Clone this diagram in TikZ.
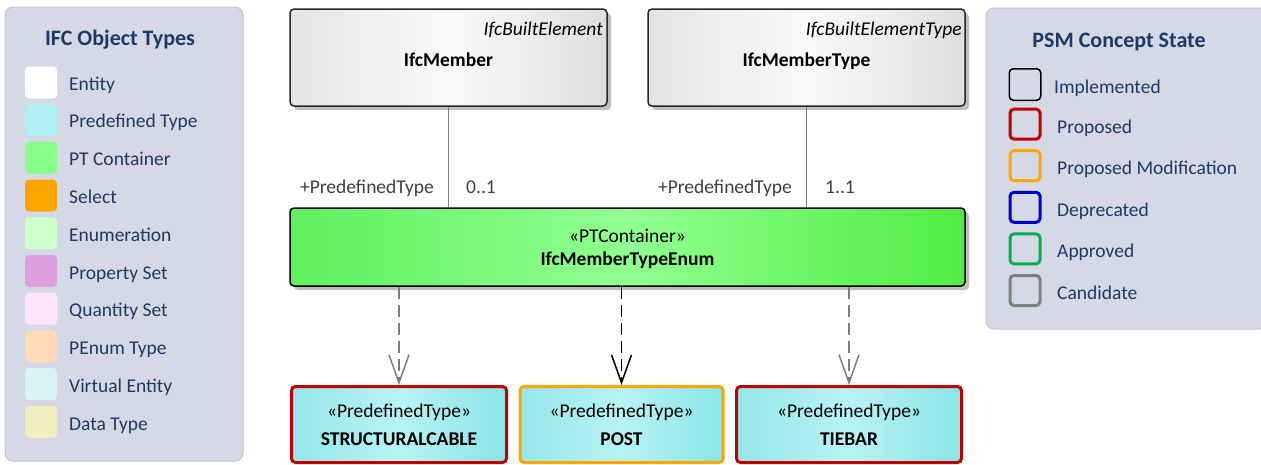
\documentclass[tikz,border=0pt]{standalone}
\usepackage{fontspec}
\setmainfont{Carlito}
\usetikzlibrary{arrows.meta,shadows}
\newcommand\txt{\fontsize{19.5}{23}\selectfont}
\newcommand\ttl{\fontsize{22}{26}\selectfont\bfseries}
\definecolor{panel_fill}{RGB}{213,217,229}
\definecolor{panel_edge}{RGB}{192,196,208}
\definecolor{text_blue}{RGB}{31,56,100}
\definecolor{edge_dark}{RGB}{40,40,40}
\definecolor{conn_gray}{RGB}{125,125,125}
\definecolor{label_gray}{RGB}{64,64,64}
\definecolor{st_red}{RGB}{192,0,0}
\definecolor{st_orange}{RGB}{255,165,0}
\definecolor{st_blue}{RGB}{0,0,204}
\definecolor{st_green}{RGB}{0,176,80}
\definecolor{st_gray}{RGB}{128,128,128}
\definecolor{ent_l}{RGB}{228,228,228}
\definecolor{ent_m}{RGB}{250,250,250}
\definecolor{ent_r}{RGB}{222,222,222}
\definecolor{ptc_l}{RGB}{95,240,95}
\definecolor{ptc_m}{RGB}{145,255,145}
\definecolor{ptc_r}{RGB}{80,236,66}
\definecolor{pt_l}{RGB}{150,230,234}
\definecolor{pt_m}{RGB}{184,243,243}
\definecolor{pt_r}{RGB}{138,228,230}

\begin{document}
\begin{tikzpicture}[x=1pt,y=-1pt,>={Straight Barb[length=28pt,width=20pt]}]
    \tikzstyle{panel}=[draw=panel_edge, fill=panel_fill, rounded corners=8pt, line width=1pt]
    \tikzstyle{swatch}=[rounded corners=4pt, minimum width=32pt, minimum height=32pt, inner sep=0pt]
    \tikzstyle{statebox}=[swatch, fill=panel_fill, line width=3pt, minimum width=30pt, minimum height=30pt]
    \tikzstyle{item}=[anchor=base west, inner sep=0pt, text=text_blue, font=\txt]
    \tikzstyle{boxshadow}=[drop shadow={shadow xshift=4pt, shadow yshift=-4pt, opacity=0.25, fill=black}]
    \tikzstyle{entity}=[draw=edge_dark, line width=1.5pt, rounded corners=4pt, boxshadow,
        minimum width=317pt, minimum height=97pt, left color=ent_l, right color=ent_r, middle color=ent_m]
    \tikzstyle{ptc}=[draw=black, line width=1.5pt, rounded corners=4pt, boxshadow,
        minimum height=78pt, left color=ptc_l, right color=ptc_r, middle color=ptc_m]
    \tikzstyle{ptype}=[line width=3pt, rounded corners=4pt, minimum height=76pt,
        left color=pt_l, right color=pt_r, middle color=pt_m]
    \tikzstyle{stereo}=[anchor=base east, inner sep=0pt, font=\txt\itshape]
    \tikzstyle{boldname}=[anchor=base, inner sep=0pt, font=\txt\bfseries]
    \tikzstyle{plaintxt}=[anchor=base, inner sep=0pt, font=\txt]
    \tikzstyle{role}=[inner sep=0pt, font=\txt, text=label_gray]
    \tikzstyle{assoc}=[draw=conn_gray, line width=1.5pt]
    \tikzstyle{realize}=[->, line width=1.5pt, dash pattern=on 12pt off 6pt]

    \useasboundingbox (0,0) rectangle (1261,464);

    % legend: object types
    \node[panel, minimum width=238pt, minimum height=454pt] (types) at (124,234) {};
    \node[anchor=base, inner sep=0pt, font=\ttl, text=text_blue] (types_t) at (120,45) {IFC Object Types};
    \foreach \i/\col/\lbl in {0/white/Entity, 1/{rgb,255:red,176;green,240;blue,240}/Predefined Type,
        2/{rgb,255:red,136;green,255;blue,136}/PT Container, 3/{rgb,255:red,255;green,165;blue,0}/Select,
        4/{rgb,255:red,204;green,255;blue,204}/Enumeration, 5/{rgb,255:red,221;green,160;blue,221}/Property Set,
        6/{rgb,255:red,255;green,228;blue,250}/Quantity Set, 7/{rgb,255:red,255;green,218;blue,185}/PEnum Type,
        8/{rgb,255:red,217;green,242;blue,242}/Virtual Entity, 9/{rgb,255:red,240;green,238;blue,190}/Data Type}
    {
        \node[swatch, fill=\col] (type\i) at (41,{82.5+37.7*\i}) {};
        \node[item] (type\i_l) at (69,{90+37.8*\i}) {\lbl};
    }

    % legend: concept states
    \node[panel, minimum width=282pt, minimum height=321pt] (states) at (1127,168.5) {};
    \node[anchor=base, inner sep=0pt, font=\ttl, text=text_blue] (states_t) at (1119,47) {PSM Concept State};
    \node[statebox, draw=black, line width=1.5pt, minimum width=31.5pt, minimum height=31.5pt] (st0) at (1025,84.5) {};
    \node[item] (st0_l) at (1054,93) {Implemented};
    \foreach \i/\col/\lbl in {1/st_red/Proposed, 2/st_orange/Proposed Modification,
        3/st_blue/Deprecated, 4/st_green/Approved, 5/st_gray/Candidate}
    {
        \node[statebox, draw=\col] (st\i) at (1025,{82.5+41.6*\i}) {};
        \node[item] (st\i_l) at (1057,{91.5+41.5*\i}) {\lbl};
    }

    % classes
    \node[entity] (member) at (448.5,57.5) {};
    \node[stereo] (member_s) at (603,35) {IfcBuiltElement};
    \node[boldname] (member_n) at (448.5,66.5) {IfcMember};
    \node[entity] (membertype) at (806.5,57.5) {};
    \node[stereo] (membertype_s) at (962,35) {IfcBuiltElementType};
    \node[boldname] (membertype_n) at (806.5,66.5) {IfcMemberType};

    \node[ptc, minimum width=675pt] (enum) at (627.5,247) {};
    \node[plaintxt] (enum_s) at (627.5,242.5) {«PTContainer»};
    \node[boldname] (enum_n) at (627.5,265.5) {IfcMemberTypeEnum};

    \node[ptype, draw=st_red, minimum width=215pt] (cable) at (399,424.5) {};
    \node[ptype, draw=st_orange, minimum width=203pt] (post) at (621.5,424.5) {};
    \node[ptype, draw=st_red, minimum width=225pt] (tiebar) at (849,424.5) {};
    \foreach \n/\lbl in {cable/STRUCTURALCABLE, post/POST, tiebar/TIEBAR}
    {
        \node[plaintxt] (\n_s) at ([yshift=7pt]\n.center) {«PredefinedType»};
        \node[boldname] (\n_n) at ([yshift=-20.5pt]\n.center) {\lbl};
    }

    % connectors
    \path[assoc]
     (member.south) edge (member.south |- enum.north)
     (membertype.south) edge (membertype.south |- enum.north);
    \node[role, anchor=base east] (member_r) at (434,193) {+PredefinedType};
    \node[role, anchor=base west] (member_m) at (466,193) {0..1};
    \node[role, anchor=base east] (membertype_r) at (792,193) {+PredefinedType};
    \node[role, anchor=base west] (membertype_m) at (825,193) {1..1};

    \draw[realize, conn_gray] (enum.south -| cable.north) -- (cable.north);
    \draw[realize, black] (enum.south -| post.north) -- (post.north);
    \draw[realize, conn_gray] (enum.south -| tiebar.north) -- (tiebar.north);
\end{tikzpicture}
\end{document}
